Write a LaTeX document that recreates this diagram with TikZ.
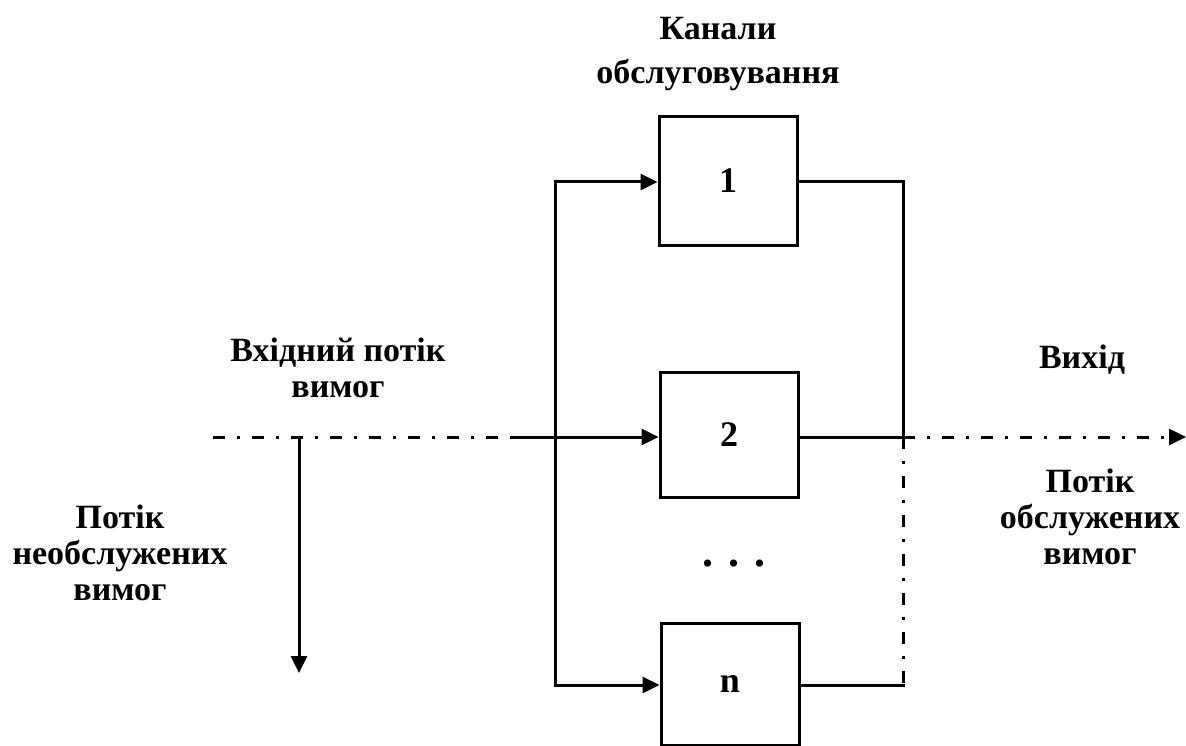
\documentclass[tikz,border=0pt]{standalone}
\usepackage{fontspec}
\setmainfont{Liberation Serif}
\usetikzlibrary{arrows.meta}
\tikzset{
  wire/.style={line width=3pt, line cap=rect},
  flow/.style={line width=3pt, dash pattern=on 12pt off 12pt on 3pt off 12pt},
  tip/.style={-{Triangle[length=17pt,width=16pt]}},
  chan/.style={draw, line width=3pt, minimum width=138pt, inner sep=0pt,
    font=\fontsize{36}{36}\selectfont\bfseries},
  lbl/.style={align=center, inner sep=0pt,
    font=\fontsize{34}{36}\selectfont\bfseries}
}
\begin{document}
\begin{tikzpicture}[x=1pt,y=-1pt]
\useasboundingbox (0,0) rectangle (1186,746);
\fill[white] (0,0) rectangle (1186,746);

% service channels
\node[chan, minimum height=129pt] (b1) at (728,181) {1};
\node[chan, minimum height=125pt] (b2) at (729,435) {2};
\node[chan, minimum height=122pt] (bn) at (730,684) {n};
\node[font=\fontsize{44}{44}\selectfont\bfseries] (dots) at (734,564) {. . .};

% labels
\node[lbl, font=\fontsize{34}{44}\selectfont\bfseries] (tch) at (718,54) {Канали\\обслуговування};
\node[lbl] (tin) at (338,368) {Вхідний потік\\вимог};
\node[lbl] (tlost) at (120,553) {Потік\\необслужених\\вимог};
\node[lbl] (tout) at (1082,360) {Вихід};
\node[lbl] (tserv) at (1090,517) {Потік\\обслужених\\вимог};

% junction points
\coordinate (src) at (213,437);
\coordinate (sol) at (512,437);
\coordinate (drop) at (299,437);
\coordinate (dropend) at (299,673);
\coordinate (bus1) at (555,182);
\coordinate (bus2) at (555,437);
\coordinate (busn) at (555,685);
\coordinate (col2) at (903,437);
\coordinate (coln) at (903,685);
\coordinate (sink) at (1186,437);

% incoming flow
\draw[flow] (src) -- (sol);
\draw[wire] (sol) -- (bus2);
\draw[wire, tip] (drop) -- (dropend);

% distribution bus
\draw[wire] (bus1) -- (busn);
\draw[wire, tip] (bus1) -- (bus1 -| b1.west);
\draw[wire, tip] (bus2) -- (bus2 -| b2.west);
\draw[wire, tip] (busn) -- (busn -| bn.west);

% collecting side
\draw[wire] (b1.east |- bus1) -| (col2);
\draw[wire] (b2.east |- col2) -- (col2);
\draw[wire] (bn.east |- coln) -- (coln);
\draw[flow] (col2) -- (coln);
\draw[flow, tip] (col2) -- (sink);
\end{tikzpicture}
\end{document}
